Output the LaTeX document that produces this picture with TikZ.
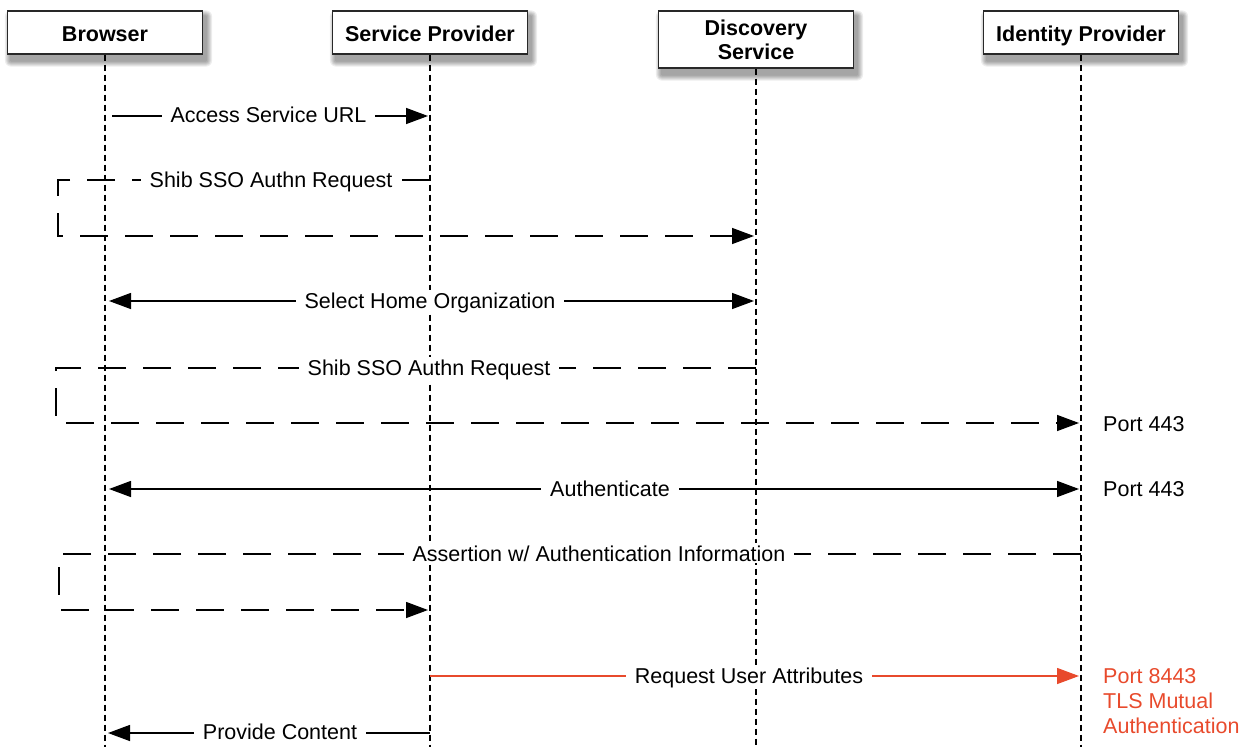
\documentclass[tikz,border=0pt]{standalone}
\usepackage{fontspec}
\setmainfont{Liberation Sans}
\usetikzlibrary{arrows.meta,backgrounds,calc}
\definecolor{attr}{RGB}{232,74,44}
\definecolor{edge}{RGB}{40,40,40}

\begin{document}
\begin{tikzpicture}[x=1pt,y=-1pt,
  font=\fontsize{21.5}{25}\selectfont,
  actor/.style={draw=edge, line width=1.2pt, fill=white, minimum width=195pt,
    inner sep=0pt, align=center, font=\fontsize{21.5}{23}\selectfont\bfseries},
  oneline/.style={minimum height=43pt, text height=19pt, text depth=1pt},
  lifeline/.style={line width=1.3pt, dash pattern=on 6pt off 4pt},
  msg/.style={line width=1.4pt},
  ret/.style={line width=1.4pt, dash pattern=on 28pt off 17pt},
  tip/.style={-{Triangle[length=22pt,width=16pt]}},
  tips/.style={{Triangle[length=22pt,width=16pt]}-{Triangle[length=22pt,width=16pt]}},
  lbl/.style={fill=white, inner xsep=9pt, inner ysep=2pt, anchor=base},
  note/.style={anchor=base west, inner sep=0pt}
]
\useasboundingbox (0,0) rectangle (1248,747);

% participants
\node[actor, oneline] (browser) at (105,32.5) {Browser};
\node[actor, oneline] (sp) at (430,32.5) {Service Provider};
\node[actor, minimum height=57pt] (ds) at (756,39.5) {Discovery\\[1pt]Service};
\node[actor, oneline] (idp) at (1081,32.5) {Identity Provider};

% soft shadows under the participant boxes
\begin{scope}[on background layer]
  \foreach \n in {browser,sp,ds,idp} {
    \foreach \r in {1,...,6} {
      \fill[black, opacity=0.07, rounded corners=\r pt]
        ($(\n.north west)+(4-\r,6-\r)$) rectangle ($(\n.south east)+(3+\r,6+\r)$);
    }
  }
\end{scope}

% lifelines
\coordinate (browser-end) at (105,747);
\coordinate (sp-end) at (430,747);
\coordinate (ds-end) at (756,747);
\coordinate (idp-end) at (1081,747);
\draw[lifeline] (browser.south) -- (browser-end);
\draw[lifeline] (sp.south) -- (sp-end);
\draw[lifeline] (ds.south) -- (ds-end);
\draw[lifeline] (idp.south) -- (idp-end);

% message end points on the lifelines
\coordinate (m1a) at (112,116);  \coordinate (m1b) at (428,116);
\coordinate (m2a) at (430,180);  \coordinate (m2c1) at (58,180);
\coordinate (m2c2) at (58,236);  \coordinate (m2b) at (754,236);
\coordinate (m3a) at (109,301);  \coordinate (m3b) at (754,301);
\coordinate (m4a) at (756,368);  \coordinate (m4c1) at (56,368);
\coordinate (m4c2) at (56,423);  \coordinate (m4b) at (1079,423);
\coordinate (m5a) at (109,489);  \coordinate (m5b) at (1079,489);
\coordinate (m6a) at (1081,554); \coordinate (m6c1) at (59,554);
\coordinate (m6c2) at (59,610);  \coordinate (m6b) at (428,610);
\coordinate (m7a) at (430,676);  \coordinate (m7b) at (1079,676);
\coordinate (m8a) at (430,733);  \coordinate (m8b) at (108,733);

% messages
\draw[msg, tip] (m1a) -- (m1b);
\draw[ret, tip] (m2a) -- (m2c1) -- (m2c2) -- (m2b);
\draw[msg, tips] (m3a) -- (m3b);
\draw[ret, tip] (m4a) -- (m4c1) -- (m4c2) -- (m4b);
\draw[msg, tips] (m5a) -- (m5b);
\draw[ret, tip] (m6a) -- (m6c1) -- (m6c2) -- (m6b);
\draw[msg, attr, tip] (m7a) -- (m7b);
\draw[msg, tip] (m8a) -- (m8b);

% message labels
\node[lbl] (l1) at (268.5,122) {Access Service URL};
\node[lbl] (l2) at (271,187) {Shib SSO Authn Request};
\node[lbl] (l3) at (430,308) {Select Home Organization};
\node[lbl] (l4) at (429,375) {Shib SSO Authn Request};
\node[lbl] (l5) at (610,496) {Authenticate};
\node[lbl] (l6) at (599,561) {Assertion w/ Authentication Information};
\node[lbl] (l7) at (749,683) {Request User Attributes};
\node[lbl] (l8) at (280,739) {Provide Content};

% port notes
\node[note] (p1) at (1103,431) {Port 443};
\node[note] (p2) at (1103,496) {Port 443};
\node[note, text=attr] (p3) at (1103,683) {Port 8443};
\node[note, text=attr] (p4) at (1103,708) {TLS Mutual};
\node[note, text=attr] (p5) at (1103,733) {Authentication};
\end{tikzpicture}
\end{document}
